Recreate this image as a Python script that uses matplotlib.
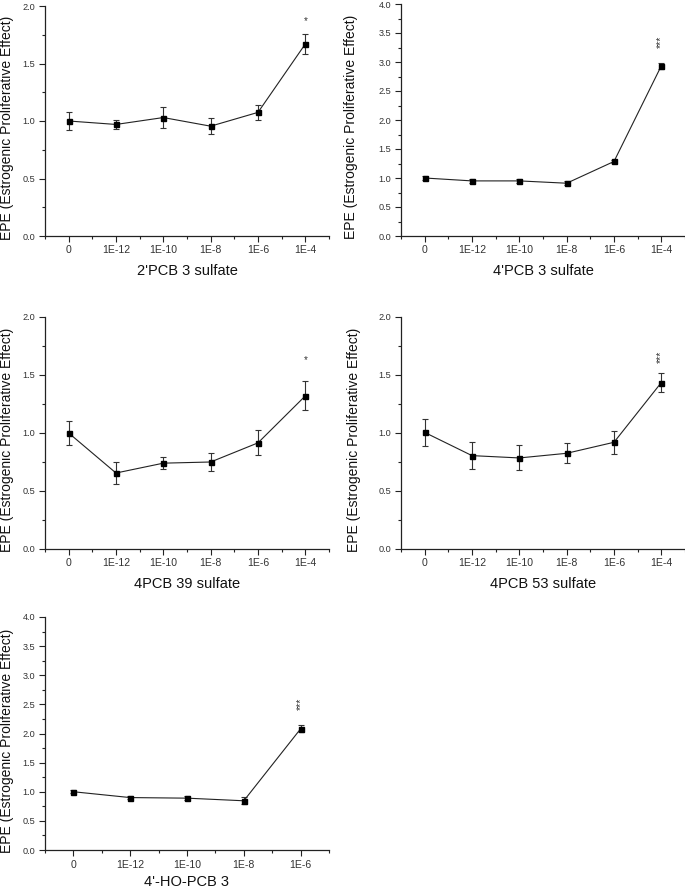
import matplotlib
matplotlib.use("Agg")
import matplotlib.pyplot as plt
from matplotlib.ticker import MultipleLocator

plt.rcParams['font.family'] = ['Liberation Sans', 'DejaVu Sans']

# concentrations (M)
doses6 = ['0', '1E-12', '1E-10', '1E-8', '1E-6', '1E-4']
doses5 = ['0', '1E-12', '1E-10', '1E-8', '1E-6']

# EPE mean and error
pcb2_mean = [1.00, 0.97, 1.03, 0.955, 1.075, 1.67]
pcb2_err = [0.075, 0.04, 0.09, 0.07, 0.063, 0.09]
pcb4_mean = [1.00, 0.95, 0.95, 0.91, 1.285, 2.935]
pcb4_err = [0.03, 0.03, 0.03, 0.03, 0.03, 0.055]
pcb39_mean = [1.00, 0.655, 0.74, 0.75, 0.915, 1.32]
pcb39_err = [0.105, 0.093, 0.05, 0.075, 0.108, 0.124]
pcb53_mean = [1.005, 0.805, 0.785, 0.825, 0.92, 1.435]
pcb53_err = [0.117, 0.118, 0.108, 0.085, 0.098, 0.08]
ho_mean = [1.00, 0.90, 0.89, 0.845, 2.08]
ho_err = [0.03, 0.03, 0.03, 0.06, 0.06]

# significance marks: (index, y, text)
pcb2_sig = (5, 1.87, '*')
pcb4_sig = (5, 3.34, '***')
pcb39_sig = (5, 1.63, '*')
pcb53_sig = (5, 1.655, '***')
ho_sig = (4, 2.51, '***')

W, H = 685, 890
fig = plt.figure(figsize=(W / 100, H / 100), dpi=100)


def panel(left, top, right, bottom, labels, mean, err, sig, ymax, xlabel,
          ylab_x, xlab_y, xpad=2):
    ax = fig.add_axes([left / W, 1 - bottom / H, (right - left) / W, (bottom - top) / H])
    x = list(range(len(labels)))
    ax.errorbar(x, mean, yerr=err, fmt='s-', color='#222222', mfc='black', mec='black',
                ms=3.6, lw=0.8, elinewidth=0.8, ecolor='#333333', capsize=2.2, capthick=0.8)
    i, ys, txt = sig
    if len(txt) > 1:
        ax.text(i, ys, txt, rotation=90, ha='center', va='center', fontsize=7.5, color='#333333')
    else:
        ax.text(i, ys, txt, ha='center', va='center', fontsize=7, color='#333333')
    ax.set_xlim(-0.5, len(labels) - 0.5)
    ax.set_ylim(0, ymax)
    ax.set_xticks(x)
    ax.set_xticklabels(labels)
    ax.xaxis.set_minor_locator(MultipleLocator(0.5))
    ax.yaxis.set_major_locator(MultipleLocator(0.5))
    ax.yaxis.set_minor_locator(MultipleLocator(0.25))
    ax.yaxis.set_major_formatter(matplotlib.ticker.FormatStrFormatter('%.1f'))
    for s in ['top', 'right']:
        ax.spines[s].set_visible(False)
    for s in ['left', 'bottom']:
        ax.spines[s].set_linewidth(0.9)
        ax.spines[s].set_color('#222222')
    ax.tick_params(which='major', direction='out', length=4.5, width=0.8, color='#222222')
    ax.tick_params(which='minor', direction='out', length=2.5, width=0.8, color='#222222')
    ax.tick_params(axis='x', labelsize=7.6, pad=xpad, labelcolor='#333333')
    ax.tick_params(axis='y', labelsize=6.6, pad=2.5, labelcolor='#333333')
    ax.set_ylabel('EPE (Estrogenic Proliferative Effect)', fontsize=10, color='#111111')
    ax.yaxis.set_label_coords(ylab_x, 0.47)
    ax.set_xlabel(xlabel, fontsize=10.5, color='#111111')
    ax.xaxis.set_label_coords(0.5, xlab_y)
    return ax


panel(45, 6, 329, 236, doses6, pcb2_mean, pcb2_err, pcb2_sig, 2.0, "2'PCB 3 sulfate", -0.109, -0.12)
panel(401, 4, 685, 236, doses6, pcb4_mean, pcb4_err, pcb4_sig, 4.0, "4'PCB 3 sulfate", -0.151, -0.12)
panel(45, 317, 329, 549, doses6, pcb39_mean, pcb39_err, pcb39_sig, 2.0, "4PCB 39 sulfate", -0.109, -0.12)
panel(401, 317, 685, 549, doses6, pcb53_mean, pcb53_err, pcb53_sig, 2.0, "4PCB 53 sulfate", -0.141, -0.12)
panel(45, 617, 329, 850, doses5, ho_mean, ho_err, ho_sig, 4.0, "4'-HO-PCB 3", -0.109, -0.108, xpad=3)

fig.savefig('out.png', dpi=100)
